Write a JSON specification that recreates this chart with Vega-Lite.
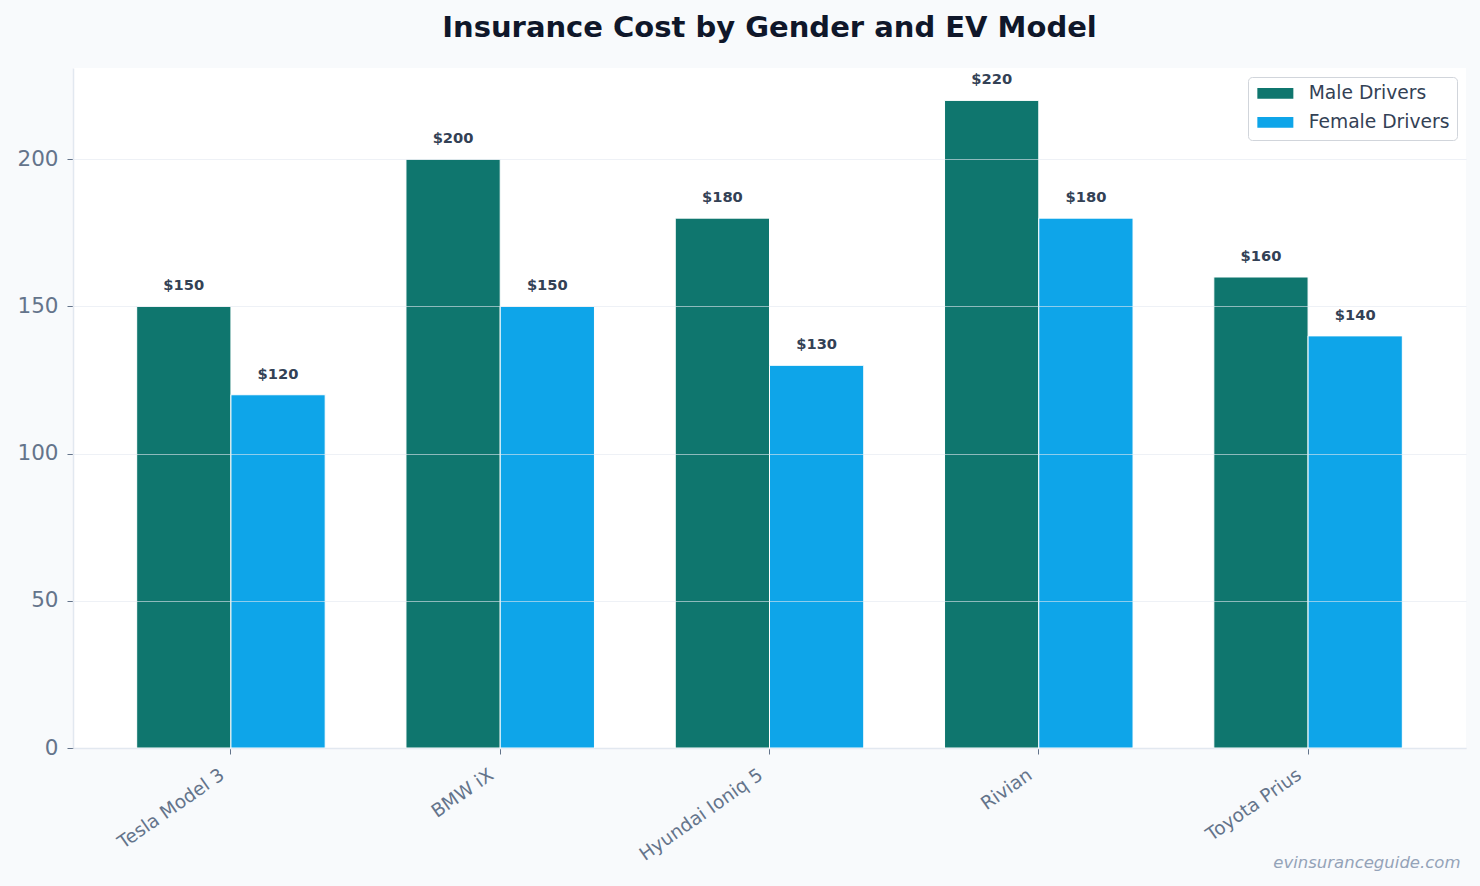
{
  "$schema": "https://vega.github.io/schema/vega-lite/v6.json",
  "width": 1393,
  "height": 680,
  "autosize": {"type": "none"},
  "padding": {"left": 73, "top": 68, "right": 14, "bottom": 138},
  "background": "#f8fafc",
  "title": {
    "text": "Insurance Cost by Gender and EV Model",
    "fontSize": 29,
    "fontWeight": "bold",
    "color": "#0f172a",
    "font": "DejaVu Sans",
    "anchor": "middle",
    "offset": 25
  },
  "config": {
    "font": "DejaVu Sans",
    "view": {"fill": "white", "stroke": null},
    "legend": {
      "orient": "top-right",
      "offset": 9,
      "fillColor": "white",
      "strokeColor": "#d1d5db",
      "cornerRadius": 4,
      "padding": 7,
      "labelFontSize": 18.7,
      "labelColor": "#334155",
      "labelFont": "DejaVu Sans",
      "rowPadding": 9,
      "symbolType": "M-2,-0.6L2,-0.6L2,0.6L-2,0.6Z",
      "symbolSize": 324,
      "symbolStrokeWidth": 0,
      "symbolOffset": 11,
      "labelOffset": 24
    }
  },
  "data": {
    "values": [
      {"model": "Tesla Model 3", "gender": "Male Drivers", "cost": 150},
      {"model": "Tesla Model 3", "gender": "Female Drivers", "cost": 120},
      {"model": "BMW iX", "gender": "Male Drivers", "cost": 200},
      {"model": "BMW iX", "gender": "Female Drivers", "cost": 150},
      {"model": "Hyundai Ioniq 5", "gender": "Male Drivers", "cost": 180},
      {"model": "Hyundai Ioniq 5", "gender": "Female Drivers", "cost": 130},
      {"model": "Rivian", "gender": "Male Drivers", "cost": 220},
      {"model": "Rivian", "gender": "Female Drivers", "cost": 180},
      {"model": "Toyota Prius", "gender": "Male Drivers", "cost": 160},
      {"model": "Toyota Prius", "gender": "Female Drivers", "cost": 140}
    ]
  },
  "encoding": {
    "x": {
      "field": "model",
      "type": "nominal",
      "sort": ["Tesla Model 3", "BMW iX", "Hyundai Ioniq 5", "Rivian", "Toyota Prius"],
      "scale": {"paddingInner": 0.3, "paddingOuter": 0.2365},
      "axis": {
        "title": "evinsuranceguide.com",
        "titleFontStyle": "italic",
        "titleFontWeight": "normal",
        "titleColor": "#94a3b8",
        "titleFontSize": 16.5,
        "titleAnchor": "end",
        "titleAlign": "right",
        "titleBaseline": "middle",
        "titleX": 1387,
        "titleY": 114,
        "labelAngle": -35,
        "labelAlign": "right",
        "labelBaseline": "top",
        "labelFontSize": 18.5,
        "labelColor": "#64748b",
        "labelPadding": 11,
        "labelOffset": -14,
        "tickColor": "#64748b",
        "tickSize": 6,
        "domainColor": "#e2e8f0",
        "domainWidth": 1.5,
        "grid": false
      }
    },
    "xOffset": {
      "field": "gender",
      "type": "nominal",
      "sort": ["Male Drivers", "Female Drivers"],
      "scale": {"paddingInner": 0, "paddingOuter": 0}
    },
    "y": {
      "field": "cost",
      "type": "quantitative",
      "scale": {"domain": [0, 231], "nice": false},
      "axis": {
        "title": null,
        "values": [0, 50, 100, 150, 200],
        "labelFontSize": 21.5,
        "labelColor": "#64748b",
        "labelPadding": 9,
        "tickColor": "#64748b",
        "tickSize": 6,
        "domainColor": "#e2e8f0",
        "domainWidth": 1.5,
        "grid": true,
        "gridColor": "#e2e8f0",
        "gridOpacity": 0.6,
        "zindex": 1
      }
    }
  },
  "layer": [
    {
      "mark": {"type": "bar", "stroke": "white", "strokeWidth": 1},
      "encoding": {
        "color": {
          "field": "gender",
          "type": "nominal",
          "sort": ["Male Drivers", "Female Drivers"],
          "scale": {"domain": ["Male Drivers", "Female Drivers"], "range": ["#0f766e", "#0ea5e9"]},
          "legend": {"title": null}
        }
      }
    },
    {
      "mark": {"type": "text", "dy": -16, "baseline": "alphabetic", "fontSize": 14.7, "fontWeight": "bold", "color": "#334155"},
      "encoding": {
        "text": {"field": "cost", "type": "quantitative", "format": "$.0f"}
      }
    }
  ]
}
